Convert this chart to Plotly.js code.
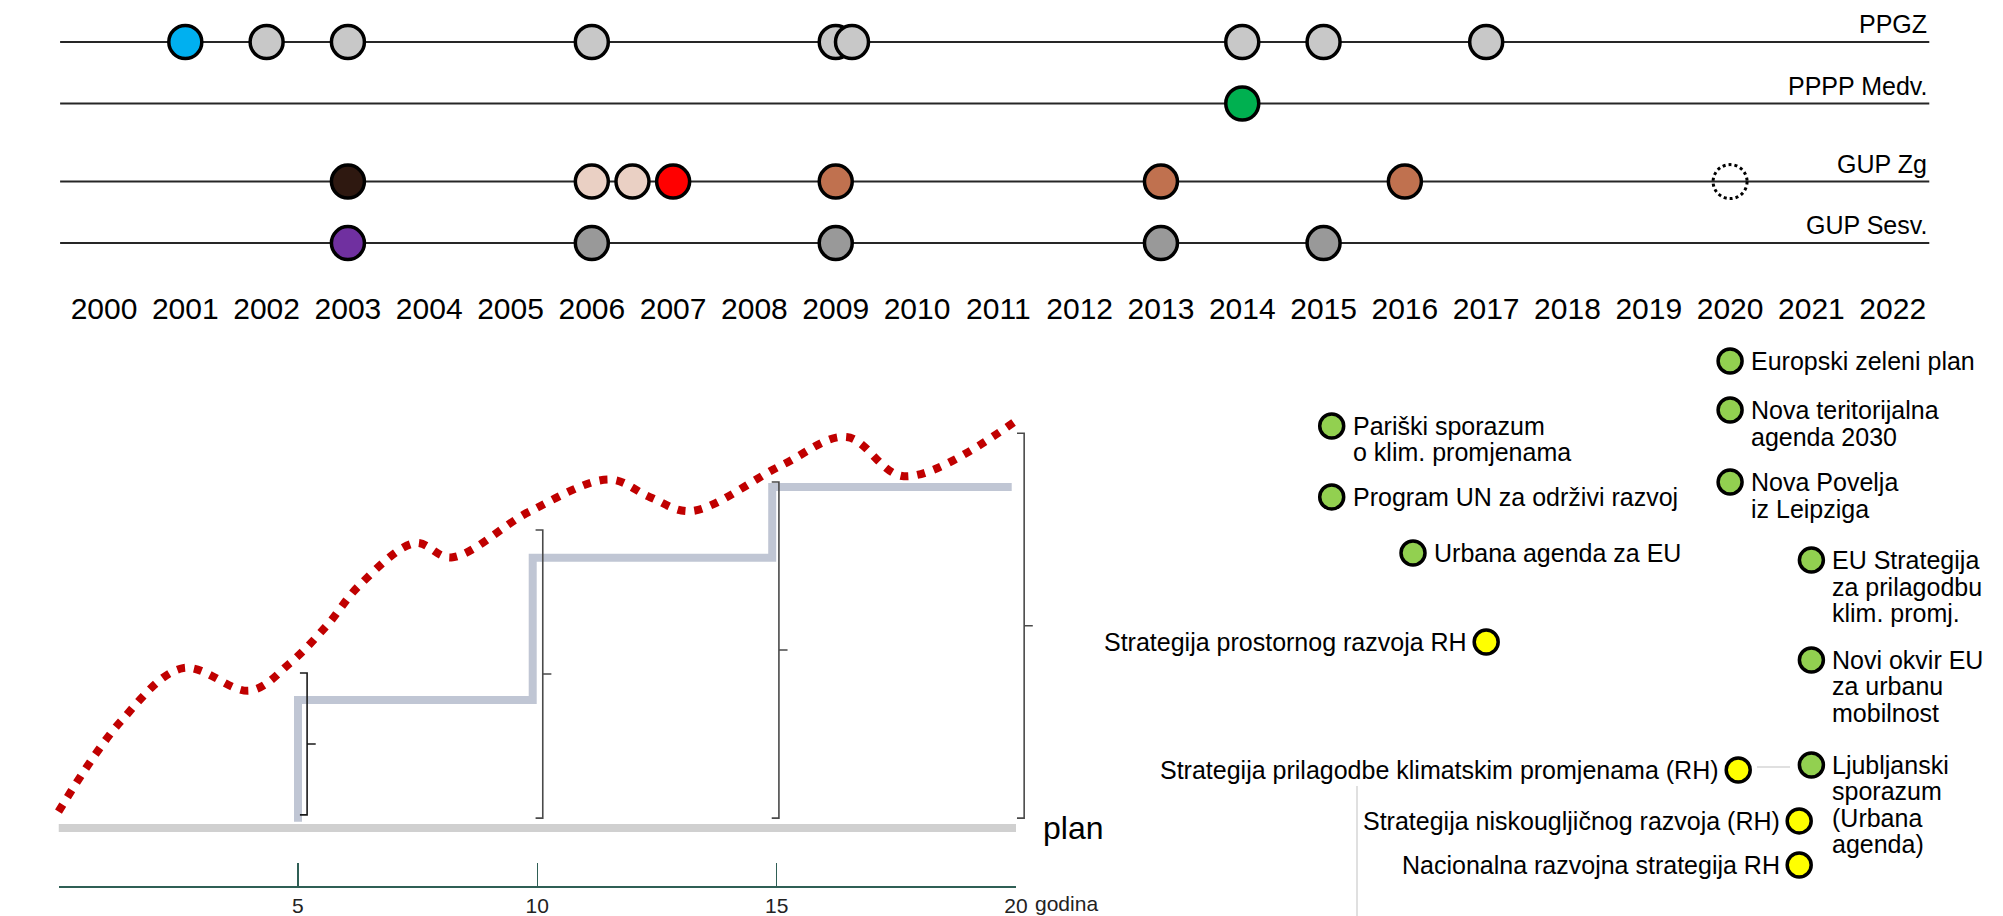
<!DOCTYPE html>
<html><head><meta charset="utf-8">
<script src="https://cdn.plot.ly/plotly-3.0.1.min.js"></script>
<style>html,body{margin:0;padding:0;background:#fff;}#chart{width:2003px;height:916px;}</style>
</head><body><div id="chart"></div>
<script>
// ================= DATA =================
const yearTicks = [2000,2001,2002,2003,2004,2005,2006,2007,2008,2009,2010,2011,2012,2013,2014,2015,2016,2017,2018,2019,2020,2021,2022];
const rowNames = ['PPGZ', 'PPPP Medv.', 'GUP Zg', 'GUP Sesv.'];

const ppgzYears = [2001, 2002, 2003, 2006, 2009, 2009.2, 2014, 2015, 2017];
const ppppMedvYears = [2014];
const gupZgYears = [2003, 2006, 2006.5, 2007, 2009, 2013, 2016];
const gupZgPlannedYears = [2020];
const gupSesvYears = [2003, 2006, 2009, 2013, 2015];

const eventNames = [
  'Europski zeleni plan',
  'Nova teritorijalna\nagenda 2030',
  'Pariški sporazum\no klim. promjenama',
  'Nova Povelja\niz Leipziga',
  'Program UN za održivi razvoj',
  'Urbana agenda za EU',
  'EU Strategija\nza prilagodbu\nklim. promj.',
  'Strategija prostornog razvoja RH',
  'Novi okvir EU\nza urbanu\nmobilnost',
  'Strategija prilagodbe klimatskim promjenama (RH)',
  'Ljubljanski\nsporazum\n(Urbana\nagenda)',
  'Strategija niskougljičnog razvoja (RH)',
  'Nacionalna razvojna strategija RH'
];
const eventYears = [2020, 2020, 2015.1, 2020, 2015.1, 2016.1, 2021, 2017, 2021, 2020.1, 2021, 2020.85, 2020.85];
const eventScope = ['EU','EU','EU','EU','EU','EU','EU','RH','EU','RH','EU','RH','RH'];

// plan period schematic (godina = years since adoption)
const planYears = [0, 20];
const planValue = [0, 0];
const realityYears = [0, 1.3, 2.6, 4.0, 4.83, 5.61, 6.29, 7.45, 8.2, 9.85, 11.5, 12.35, 13.2, 15.1, 16.45, 17.65, 19.95];
const realityValue = [4, 26, 39, 33.5, 40.2, 49.5, 59.3, 69.5, 66, 77.3, 85, 80.7, 77.3, 88.5, 95.4, 85.8, 99];
const revisionYears = [5, 5, 9.9, 14.9, 19.9];
const revisionValue = [1.5, 31.2, 65.9, 83.2, 83.2];
const bracketYears = [5.19, 10.11, 15.04, 20.16];
const bracketTop = [37.8, 72.7, 84.4, 96.3];
const bracketBottom = [3.2, 2.4, 2.4, 2.4];
const periodTicks = [5, 10, 15, 20];
const periodLabels = ['5', '10', '15', '20'];

// ================= STYLE / LAYOUT =================
const W = 2003, H = 916;
const fx = px => px / W;
const fy = py => 1 - py / H;
const SANS = 'Liberation Sans, Arial, sans-serif';
const NARROW = 'Liberation Sans Narrow, Arial Narrow, Liberation Sans, sans-serif';

const rowLevel = [0, 1, 2.27, 3.27];            // vertical placement of timeline rows
const ppgzColors = ['#00b0f0', '#c8c8c8', '#c8c8c8', '#c8c8c8', '#c8c8c8', '#c8c8c8', '#c8c8c8', '#c8c8c8', '#c8c8c8'];
const ppppColors = ['#00b050'];
const gupZgColors = ['#2e1810', '#ead0c4', '#ead0c4', '#ff0000', '#c0714f', '#c0714f', '#c0714f'];
const gupSesvColors = ['#7030a0', '#999999', '#999999', '#999999', '#999999'];
const eventLane = [1.19, 3.08, 3.69, 5.85, 6.42, 8.58, 8.85, 12.0, 12.69, 16.92, 16.73, 18.88, 20.58];
const scopeColor = {EU: '#92d050', RH: '#ffff00'};

function rowTrace(xs, lvl, colors) {
  return {
    type: 'scatter', mode: 'markers', xaxis: 'x', yaxis: 'y',
    x: xs, y: xs.map(() => lvl),
    marker: {size: 33, color: colors, line: {color: '#000', width: 3.5}},
    hoverinfo: 'skip'
  };
}

const traces = [
  rowTrace(ppgzYears, rowLevel[0], ppgzColors),
  rowTrace(ppppMedvYears, rowLevel[1], ppppColors),
  rowTrace(gupZgYears, rowLevel[2], gupZgColors),
  rowTrace(gupSesvYears, rowLevel[3], gupSesvColors),
  {
    type: 'scatter', mode: 'markers', xaxis: 'x', yaxis: 'y3',
    x: eventYears, y: eventLane,
    marker: {size: 24, color: eventScope.map(s => scopeColor[s]), line: {color: '#000', width: 3.5}},
    hoverinfo: 'skip'
  },
  {
    type: 'scatter', mode: 'lines', xaxis: 'x4', yaxis: 'y2',
    x: planYears, y: planValue,
    line: {color: '#d0d0d0', width: 8}, hoverinfo: 'skip'
  },
  {
    type: 'scatter', mode: 'lines', xaxis: 'x2', yaxis: 'y2',
    x: revisionYears, y: revisionValue, line: {color: '#c0c6d4', width: 8, shape: 'hv'}, hoverinfo: 'skip'
  },
  {
    type: 'scatter', mode: 'lines', xaxis: 'x2', yaxis: 'y2',
    x: realityYears, y: realityValue,
    line: {color: '#c00000', width: 8, shape: 'spline', smoothing: 1, dash: '8px,9px'}, hoverinfo: 'skip'
  }
];

const shapes = [];
rowLevel.forEach(lvl => shapes.push({
  type: 'line', xref: 'x', yref: 'y', x0: 1999.46, x1: 2022.45, y0: lvl, y1: lvl,
  line: {color: '#262626', width: 2}, layer: 'below'
}));
gupZgPlannedYears.forEach(yr => shapes.push({
  type: 'circle', xref: 'x', yref: 'y', xsizemode: 'pixel', ysizemode: 'pixel',
  xanchor: yr, yanchor: rowLevel[2], x0: -17, x1: 17, y0: -17, y1: 17,
  line: {color: '#000', width: 3, dash: 'dot'}, fillcolor: 'rgba(0,0,0,0)'
}));
bracketYears.forEach((bx, i) => {
  const top = bracketTop[i], bot = bracketBottom[i], mid = (top + bot) / 2;
  shapes.push({
    type: 'path', xref: 'x2', yref: 'y2',
    path: `M${bx - 0.15},${top} L${bx},${top} L${bx},${bot} L${bx - 0.15},${bot} M${bx},${mid} L${bx + 0.18},${mid}`,
    line: {color: i === 0 ? '#1a1a1a' : '#4a4a4a', width: 1.6}
  });
});
// faint frame lines at right
shapes.push({type: 'line', xref: 'paper', yref: 'paper', x0: fx(1357), x1: fx(1357), y0: fy(786), y1: fy(916), line: {color: '#d6d6d6', width: 1.5}});
shapes.push({type: 'line', xref: 'paper', yref: 'paper', x0: fx(1757), x1: fx(1790), y0: fy(767), y1: fy(767), line: {color: '#d6d6d6', width: 1.5}});

const annotations = [];
rowNames.forEach((name, i) => annotations.push({
  xref: 'x', yref: 'y', x: 2022.45, y: rowLevel[i], xanchor: 'right', yanchor: 'bottom', yshift: 2,
  text: name, showarrow: false, font: {family: SANS, size: 25, color: '#000'}
}));
eventNames.forEach((name, i) => {
  const left = eventScope[i] === 'EU';
  name.split('\n').forEach((line, k) => annotations.push({
    xref: 'x', yref: 'y3', x: eventYears[i], y: eventLane[i],
    xanchor: left ? 'left' : 'right', yanchor: 'middle',
    xshift: left ? 19 : -17, yshift: -k * 26.5,
    text: line, showarrow: false, font: {family: SANS, size: 25, color: '#000'}
  }));
});
annotations.push({
  xref: 'x2', yref: 'y2', x: 20, y: 0, xanchor: 'left', yanchor: 'middle', xshift: 24,
  text: 'plan', showarrow: false, font: {family: SANS, size: 32, color: '#000'}
});
annotations.push({
  xref: 'x4', yref: 'paper', x: 20, y: fy(903), xanchor: 'left', yanchor: 'middle', xshift: 17,
  text: 'godina', showarrow: false, font: {family: SANS, size: 21, color: '#222'}
});

const hidden = {visible: false, fixedrange: true};
const layout = {
  width: W, height: H, margin: {l: 0, r: 0, t: 0, b: 0},
  paper_bgcolor: '#fff', plot_bgcolor: 'rgba(0,0,0,0)', showlegend: false,
  xaxis: {
    domain: [fx(22.7), fx(1974)], range: [1999, 2023], anchor: 'y',
    showgrid: false, zeroline: false, showline: false, ticks: '',
    tickvals: yearTicks, ticktext: yearTicks.map(String),
    tickfont: {family: NARROW, size: 30, color: '#000'}, fixedrange: true
  },
  yaxis: Object.assign({domain: [fy(288), fy(0)], range: [(288 - 42) / 61.5, -42 / 61.5]}, hidden),
  yaxis3: Object.assign({domain: [fy(916), fy(330)], range: [586 / 26, 0]}, hidden),
  xaxis2: Object.assign({domain: [fx(34.55), fx(1088.35)], range: [-0.5, 21.5], anchor: 'y2'}, hidden),
  yaxis2: Object.assign({domain: [fy(886), fy(400)], range: [-14.15, 104.4], anchor: 'x2'}, hidden),
  xaxis4: {
    domain: [fx(58.5), fx(1016)], range: [0, 20], anchor: 'y2',
    showgrid: false, zeroline: false, showline: true, linecolor: '#2f5f55', linewidth: 1.5,
    ticks: 'inside', ticklen: 23, tickwidth: 1.5, tickcolor: '#2f5f55',
    tickvals: periodTicks, ticktext: periodLabels,
    tickfont: {family: SANS, size: 21, color: '#222'}, fixedrange: true
  },
  shapes: shapes,
  annotations: annotations
};

Plotly.newPlot('chart', traces, layout, {staticPlot: true, displayModeBar: false});
</script></body></html>
